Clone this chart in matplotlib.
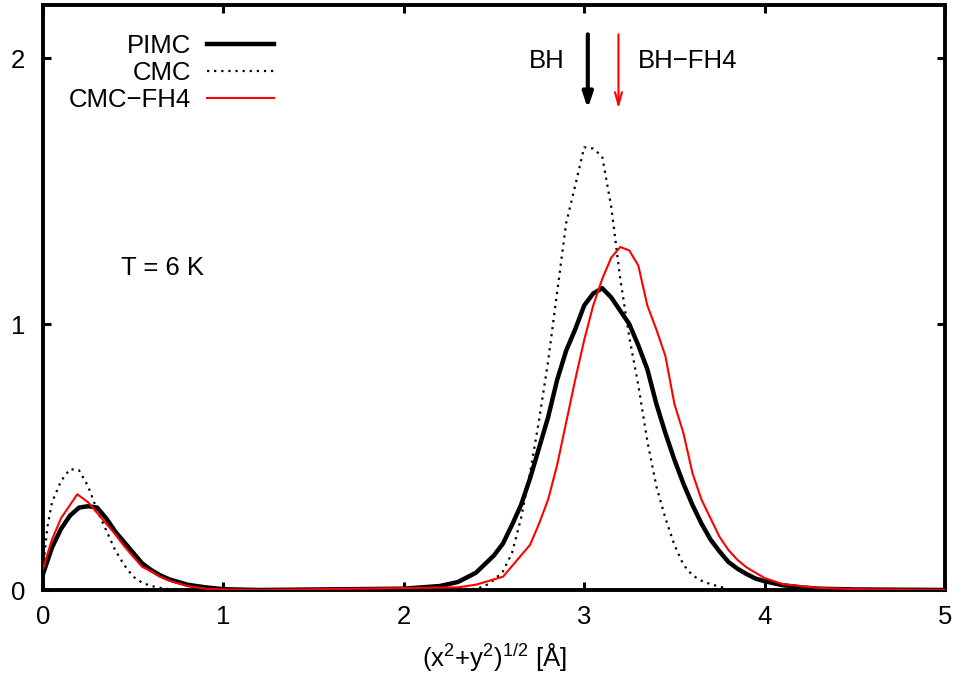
import numpy as np
import matplotlib
matplotlib.use("Agg")
import matplotlib.pyplot as plt

plt.rcParams['font.family'] = ['Liberation Sans', 'DejaVu Sans']
plt.rcParams['mathtext.default'] = 'regular'

# PIMC (thick black)
x_pimc = [0.0, 0.05, 0.1, 0.15, 0.2, 0.25, 0.3, 0.35, 0.4, 0.45, 0.5, 0.55, 0.6, 0.65, 0.7,
          0.8, 0.9, 1.0, 1.2, 2.0, 2.1, 2.2, 2.3, 2.4, 2.5, 2.55, 2.6, 2.65, 2.7, 2.75, 2.8,
          2.85, 2.9, 2.95, 3.0, 3.05, 3.1, 3.15, 3.2, 3.25, 3.3, 3.35, 3.4, 3.45, 3.5, 3.55,
          3.6, 3.65, 3.7, 3.75, 3.8, 3.85, 3.9, 3.95, 4.0, 4.1, 4.2, 4.3, 4.5, 5.0]
y_pimc = [0.06, 0.16, 0.23, 0.28, 0.31, 0.315, 0.31, 0.27, 0.22, 0.18, 0.14, 0.10, 0.075, 0.055, 0.04,
          0.02, 0.01, 0.003, 0.0, 0.005, 0.01, 0.015, 0.03, 0.065, 0.13, 0.175, 0.245, 0.32, 0.42, 0.535, 0.65,
          0.79, 0.90, 0.98, 1.07, 1.115, 1.135, 1.10, 1.05, 1.00, 0.92, 0.83, 0.70, 0.59, 0.49, 0.40,
          0.32, 0.25, 0.19, 0.145, 0.105, 0.08, 0.06, 0.043, 0.033, 0.018, 0.01, 0.005, 0.002, 0.0]

# CMC (dotted)
x_cmc = [0.0, 0.025, 0.05, 0.1, 0.15, 0.2, 0.25, 0.3, 0.35, 0.4, 0.45, 0.5, 0.55, 0.6, 0.65, 0.7,
         0.8, 2.4, 2.45, 2.5, 2.55, 2.6, 2.65, 2.7, 2.75, 2.8, 2.85, 2.9, 2.95, 3.0, 3.05, 3.1,
         3.15, 3.2, 3.25, 3.3, 3.35, 3.4, 3.45, 3.5, 3.55, 3.6, 3.65, 3.7, 3.75, 3.8]
y_cmc = [0.08, 0.24, 0.33, 0.41, 0.455, 0.45, 0.39, 0.30, 0.225, 0.15, 0.094, 0.05, 0.027, 0.015, 0.008, 0.003,
         0.0, 0.004, 0.015, 0.038, 0.07, 0.14, 0.27, 0.44, 0.64, 0.86, 1.12, 1.38, 1.52, 1.665, 1.66, 1.63,
         1.44, 1.17, 0.95, 0.77, 0.56, 0.39, 0.27, 0.17, 0.095, 0.055, 0.035, 0.022, 0.013, 0.003]

# CMC-FH4 (red)
x_fh4 = [0.0, 0.05, 0.1, 0.15, 0.19, 0.25, 0.3, 0.35, 0.4, 0.45, 0.5, 0.55, 0.6, 0.65, 0.7,
         0.8, 0.9, 1.0, 1.2, 2.3, 2.4, 2.45, 2.5, 2.55, 2.6, 2.65, 2.7, 2.75, 2.8, 2.85, 2.9,
         2.95, 3.0, 3.05, 3.1, 3.15, 3.2, 3.25, 3.3, 3.35, 3.4, 3.45, 3.5, 3.55, 3.6, 3.65,
         3.7, 3.75, 3.8, 3.85, 3.9, 3.95, 4.0, 4.1, 4.2, 4.3, 4.5, 5.0]
y_fh4 = [0.08, 0.19, 0.27, 0.32, 0.36, 0.33, 0.29, 0.25, 0.21, 0.165, 0.125, 0.087, 0.07, 0.05, 0.035,
         0.015, 0.005, 0.002, 0.0, 0.01, 0.02, 0.03, 0.04, 0.05, 0.09, 0.13, 0.17, 0.25, 0.34, 0.47, 0.63,
         0.79, 0.94, 1.07, 1.17, 1.25, 1.29, 1.277, 1.22, 1.07, 0.98, 0.88, 0.70, 0.59, 0.44, 0.34,
         0.27, 0.20, 0.15, 0.113, 0.085, 0.065, 0.045, 0.022, 0.015, 0.008, 0.003, 0.0]

# arrow positions (BH, BH-FH4)
arrow_x = [3.02, 3.19]
arrow_top = 2.10
arrow_bot = 1.80

fs = 18.5

fig = plt.figure(figsize=(9.6, 6.8), dpi=100)
ax = fig.add_axes([43/960, 1-590/680, (945-43)/960, (590-5)/680])

ax.plot(x_pimc, y_pimc, color="black", lw=3.2, label="PIMC", zorder=3)
ax.plot(x_cmc, y_cmc, color="black", lw=1.6, linestyle=(0, (1, 2.2)), label="CMC", zorder=2)
ax.plot(x_fh4, y_fh4, color="red", lw=1.5, label="CMC\u2212FH4", zorder=4)

ax.annotate("", xy=(arrow_x[0], arrow_bot), xytext=(arrow_x[0], arrow_top),
            arrowprops=dict(arrowstyle="-|>,head_length=0.9,head_width=0.3", color="black", lw=3))
ax.annotate("", xy=(arrow_x[1], arrow_bot), xytext=(arrow_x[1], arrow_top),
            arrowprops=dict(arrowstyle="->,head_length=0.9,head_width=0.25", color="red", lw=1.5))
ax.text(2.79, 1.99, "BH", fontsize=fs, ha="center", va="center")
ax.text(3.30, 1.99, "BH\u2212FH4", fontsize=fs, ha="left", va="center")
ax.text(0.43, 1.21, "T = 6 K", fontsize=fs, ha="left", va="center")

ax.set_xlim(0, 5)
ax.set_ylim(0, 2.2)
ax.set_xticks([0, 1, 2, 3, 4, 5])
ax.set_yticks([0, 1, 2])
ax.tick_params(direction="in", top=True, right=True, length=6, width=2.2, labelsize=fs)
ax.tick_params(axis="x", pad=11)
ax.tick_params(axis="y", pad=13)
for s in ax.spines.values():
    s.set_linewidth(2.8)
ax.set_xlabel("(x$^2$+y$^2$)$^{1/2}$ [Å]", fontsize=fs, labelpad=9)

leg = ax.legend(loc="upper left", bbox_to_anchor=(0.003, 0.99), frameon=False, fontsize=fs,
                markerfirst=False, handlelength=2.6, handletextpad=0.62, labelspacing=0.12)
for t in leg.get_texts():
    t.set_ha("right")
leg._legend_box.align = "right"

fig.savefig("out.png", dpi=100)
